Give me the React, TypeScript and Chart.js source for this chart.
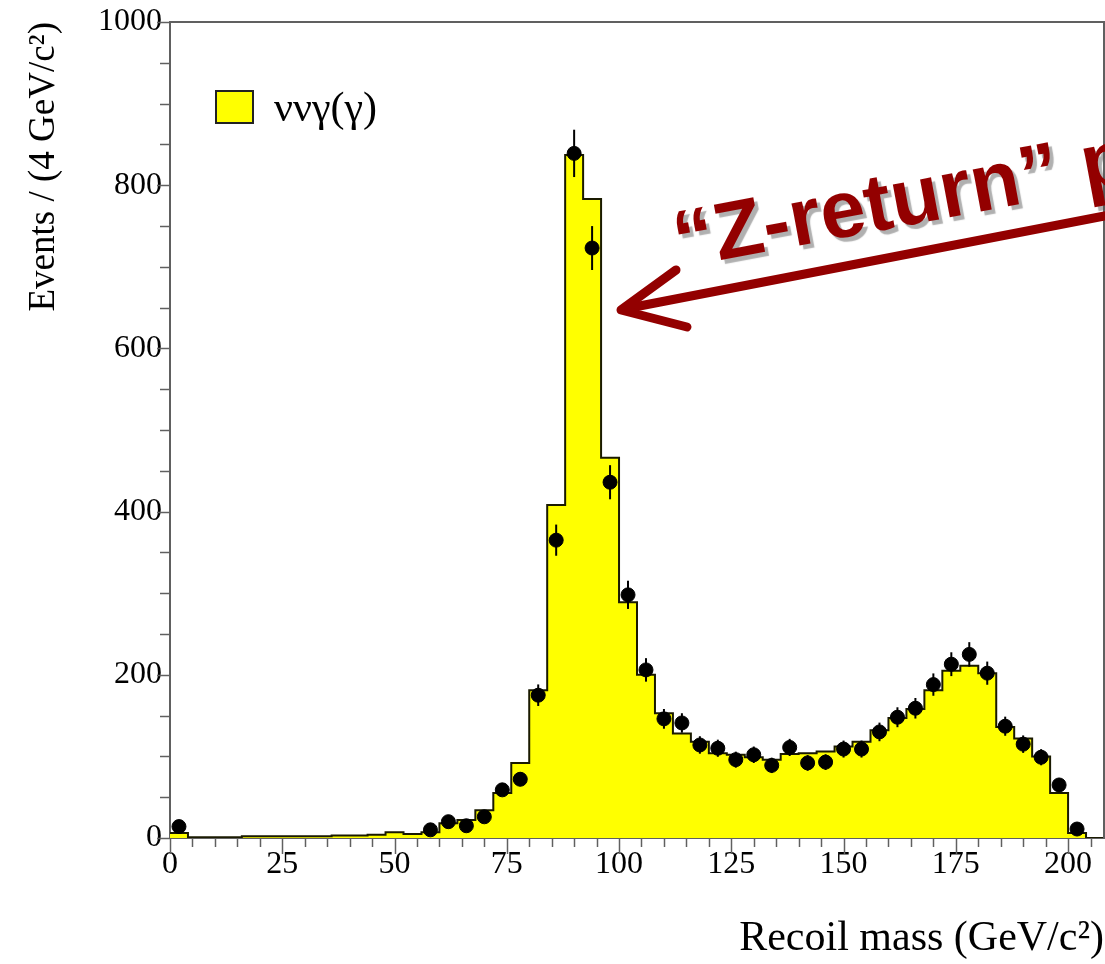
import React, { useEffect, useRef } from "react";
import { Chart, registerables } from "chart.js";

Chart.register(...registerables);

// ---- data ----
const binWidth = 4;
const binLowEdges = [
  0, 4, 8, 12, 16, 20, 24, 28, 32, 36, 40, 44, 48, 52, 56, 60, 64, 68, 72, 76,
  80, 84, 88, 92, 96, 100, 104, 108, 112, 116, 120, 124, 128, 132, 136, 140,
  144, 148, 152, 156, 160, 164, 168, 172, 176, 180, 184, 188, 192, 196, 200, 204,
];
// simulated nu nu gamma(gamma) histogram (events per 4 GeV)
const mcCounts = [
  6, 1, 1, 1, 2, 2, 2, 2, 2, 3, 3, 4, 7, 5, 7, 18, 22, 34, 55, 92,
  181, 408, 837, 783, 466, 289, 200, 153, 128, 118, 104, 102, 99, 96, 103, 104,
  106, 112, 118, 132, 147, 158, 181, 205, 211, 202, 136, 122, 100, 55, 6, 0,
];
// observed data points
const dataCounts: (number | null)[] = [
  14, null, null, null, null, null, null, null, null, null, null, null, null, null, 10, 20, 15, 26, 59, 72,
  175, 365, 839, 723, 436, 298, 206, 146, 141, 114, 110, 96, 102, 89, 111, 92,
  93, 109, 109, 130, 148, 159, 188, 213, 225, 202, 137, 115, 99, 65, 11, null,
];
const dataErrors: (number | null)[] = [
  3.7, null, null, null, null, null, null, null, null, null, null, null, null, null, 3.2, 4.5, 3.9, 5.1, 7.7, 8.5,
  13.2, 19.1, 29.0, 26.9, 20.9, 17.3, 14.4, 12.1, 11.9, 10.7, 10.5, 9.8, 10.1, 9.4, 10.5, 9.6,
  9.6, 10.4, 10.4, 11.4, 12.2, 12.6, 13.7, 14.6, 15.0, 14.2, 11.7, 10.7, 9.9, 8.1, 3.3, null,
];
const xTickLabels = [0, 25, 50, 75, 100, 125, 150, 175, 200];
const yTickLabels = [0, 200, 400, 600, 800, 1000];
const xMinorStep = 5;
const yMinorStep = 50;
const legendLabel = "ννγ(γ)";
const annotationText = "“Z-return” peak";
const xTitle = "Recoil mass (GeV/c²)";
const yTitle = "Events / (4 GeV/c²)";

const SERIF = '"Liberation Serif", "DejaVu Serif", serif';
const SANS = '"Liberation Sans", Arial, sans-serif';
const AXIS_COLOR = "#606060";
const RED = "#930000";

const extrasPlugin = {
  id: "histExtras",
  afterDatasetDraw(chart: any, args: any) {
    if (args.index !== 1) return; // after MC histogram, before points
    const { ctx, scales } = chart;
    const x = scales.x;
    const y = scales.y;
    ctx.save();
    ctx.strokeStyle = "#000";
    ctx.lineWidth = 2;
    dataCounts.forEach((v, i) => {
      const e = dataErrors[i];
      if (v == null || e == null) return;
      const px = x.getPixelForValue(binLowEdges[i] + binWidth / 2);
      ctx.beginPath();
      ctx.moveTo(px, y.getPixelForValue(v - e));
      ctx.lineTo(px, y.getPixelForValue(v + e));
      ctx.stroke();
    });
    ctx.restore();
  },
  afterDraw(chart: any) {
    const { ctx, chartArea, scales } = chart;
    const x = scales.x;
    const y = scales.y;
    ctx.save();
    // frame top/right
    ctx.strokeStyle = AXIS_COLOR;
    ctx.lineWidth = 2;
    ctx.beginPath();
    ctx.moveTo(chartArea.left, chartArea.top);
    ctx.lineTo(chartArea.right, chartArea.top);
    ctx.lineTo(chartArea.right, chartArea.bottom);
    ctx.stroke();
    // tick marks
    ctx.lineWidth = 1.5;
    for (let v = x.min; v <= x.max; v += xMinorStep) {
      const px = Math.round(x.getPixelForValue(v)) + 0.5;
      const len = xTickLabels.includes(v) ? 16 : 9;
      ctx.beginPath();
      ctx.moveTo(px, chartArea.bottom);
      ctx.lineTo(px, chartArea.bottom + len);
      ctx.stroke();
    }
    for (let v = y.min; v <= y.max; v += yMinorStep) {
      const py = Math.round(y.getPixelForValue(v)) + 0.5;
      const len = yTickLabels.includes(v) ? 13 : 10;
      ctx.beginPath();
      ctx.moveTo(chartArea.left - len, py);
      ctx.lineTo(chartArea.left, py);
      ctx.stroke();
    }
    // legend
    ctx.fillStyle = "#ffff00";
    ctx.fillRect(216, 91, 37, 32);
    ctx.strokeStyle = "#222";
    ctx.lineWidth = 2;
    ctx.strokeRect(216, 91, 37, 32);
    ctx.fillStyle = "#000";
    ctx.font = `42px ${SERIF}`;
    ctx.textBaseline = "alphabetic";
    ctx.textAlign = "left";
    ctx.fillText(legendLabel, 274, 121);
    // arrow
    ctx.strokeStyle = RED;
    ctx.lineWidth = 9;
    ctx.lineCap = "round";
    ctx.lineJoin = "round";
    ctx.beginPath();
    ctx.moveTo(1115, 214);
    ctx.lineTo(624, 309);
    ctx.stroke();
    ctx.beginPath();
    ctx.moveTo(676, 270);
    ctx.lineTo(621, 310);
    ctx.lineTo(687, 327);
    ctx.stroke();
    // annotation text
    ctx.translate(679, 268);
    ctx.rotate((-10.6 * Math.PI) / 180);
    ctx.font = `bold 81px ${SANS}`;
    ctx.fillStyle = RED;
    ctx.shadowColor = "rgba(80,80,80,0.45)";
    ctx.shadowOffsetX = 4;
    ctx.shadowOffsetY = 4;
    ctx.shadowBlur = 1;
    ctx.fillText(annotationText, 0, 0);
    ctx.restore();
  },
};

export default function App() {
  const canvasRef = useRef<HTMLCanvasElement | null>(null);

  useEffect(() => {
    const canvas = canvasRef.current;
    if (!canvas) return;
    const last = binLowEdges.length - 1;
    const mcSteps = binLowEdges.map((e, i) => ({ x: e, y: mcCounts[i] }));
    mcSteps.push({ x: binLowEdges[last] + binWidth, y: mcCounts[last] });
    const points = dataCounts
      .map((v, i) => ({ x: binLowEdges[i] + binWidth / 2, y: v }))
      .filter((p) => p.y != null);

    const chart = new Chart(canvas, {
      type: "line",
      data: {
        datasets: [
          {
            label: "data",
            data: points as any,
            showLine: false,
            pointRadius: 7,
            pointBackgroundColor: "#000",
            pointBorderColor: "#000",
            pointBorderWidth: 1,
          },
          {
            label: legendLabel,
            data: mcSteps as any,
            stepped: "before",
            fill: "origin",
            backgroundColor: "#ffff00",
            borderColor: "#1a1a00",
            borderWidth: 2,
            pointRadius: 0,
            tension: 0,
          },
        ],
      },
      options: {
        responsive: false,
        animation: false,
        devicePixelRatio: 1,
        layout: { autoPadding: false, padding: { top: 22, right: 1, left: 0, bottom: 0 } },
        plugins: {
          legend: { display: false },
          tooltip: { enabled: false },
        },
        scales: {
          x: {
            type: "linear",
            min: 0,
            max: 208,
            grid: { display: false, drawTicks: false },
            border: { display: true, color: AXIS_COLOR, width: 2 },
            ticks: {
              stepSize: xMinorStep,
              includeBounds: false,
              autoSkip: false,
              maxRotation: 0,
              padding: 7,
              color: "#000",
              font: { family: SERIF, size: 32 },
              callback: (v: any) => (xTickLabels.includes(Number(v)) ? String(v) : ""),
            },
            title: {
              display: true,
              text: xTitle,
              align: "end",
              color: "#000",
              font: { family: SERIF, size: 42 },
              padding: { top: 0, bottom: 0 },
            },
            afterFit: (s: any) => {
              s.height = 126;
              s.paddingLeft = 0;
              s.paddingRight = 0;
            },
          },
          y: {
            type: "linear",
            min: 0,
            max: 1000,
            grid: { display: false, drawTicks: false },
            border: { display: true, color: AXIS_COLOR, width: 2 },
            ticks: {
              stepSize: yMinorStep,
              autoSkip: false,
              padding: 8,
              color: "#000",
              font: { family: SERIF, size: 32 },
              callback: (v: any) => (yTickLabels.includes(Number(v)) ? String(v) : ""),
            },
            title: {
              display: true,
              text: yTitle,
              align: "end",
              color: "#000",
              font: { family: SERIF, size: 37 },
              padding: { top: 22, bottom: 0 },
            },
            afterFit: (s: any) => {
              s.width = 170;
              s.paddingTop = 0;
              s.paddingBottom = 0;
            },
          },
        },
      },
      plugins: [extrasPlugin],
    });
    return () => chart.destroy();
  }, []);

  return (
    <div style={{ position: "fixed", left: 0, top: 0, width: 1105, height: 964, background: "#fff" }}>
      <canvas ref={canvasRef} width={1105} height={964} />
    </div>
  );
}
